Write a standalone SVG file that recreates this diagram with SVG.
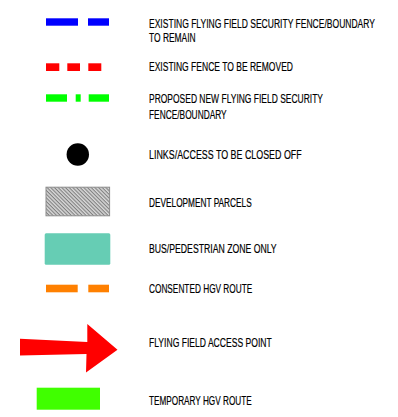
<svg xmlns="http://www.w3.org/2000/svg" width="398" height="417" viewBox="0 0 398 417">
<defs>
<pattern id="hatch" patternUnits="userSpaceOnUse" width="2.6" height="2.6" patternTransform="rotate(45)">
<rect width="2.6" height="2.6" fill="#d8d8d8"/>
<rect width="2.6" height="1.1" fill="#808080"/>
</pattern>
<style>
.t{font-family:"Liberation Sans",Arial,sans-serif;font-size:13.6px;fill:#000;stroke:#000;stroke-width:0.2;}
</style>
</defs>
<rect width="398" height="417" fill="#fff"/>
<g id="blue-fence">
<rect x="46" y="18.3" width="32" height="7.4" fill="#0000ff"/>
<rect x="88" y="18.3" width="21" height="7.4" fill="#0000ff"/>
<text class="t" transform="scale(0.6,1)" x="248.33" y="28.3" textLength="376.67" lengthAdjust="spacingAndGlyphs">EXISTING FLYING FIELD SECURITY FENCE/BOUNDARY</text>
<text class="t" transform="scale(0.6,1)" x="248.33" y="42.3" textLength="77.8" lengthAdjust="spacingAndGlyphs">TO REMAIN</text>
</g>
<g id="red-fence">
<rect x="46" y="63.3" width="13.3" height="7.7" fill="#ff0000"/>
<rect x="67.3" y="63.3" width="12.7" height="7.7" fill="#ff0000"/>
<rect x="88.3" y="63.3" width="13" height="7.7" fill="#ff0000"/>
<text class="t" transform="scale(0.6,1)" x="248.33" y="71" textLength="240" lengthAdjust="spacingAndGlyphs">EXISTING FENCE TO BE REMOVED</text>
</g>
<g id="green-fence">
<rect x="46" y="94.3" width="21" height="7.4" fill="#00ff00"/>
<rect x="75.7" y="94.3" width="5" height="7.4" fill="#00ff00"/>
<rect x="88.7" y="94.3" width="20.3" height="7.4" fill="#00ff00"/>
<text class="t" transform="scale(0.6,1)" x="248.33" y="103.3" textLength="290" lengthAdjust="spacingAndGlyphs">PROPOSED NEW FLYING FIELD SECURITY</text>
<text class="t" transform="scale(0.6,1)" x="248.33" y="119.3" textLength="129.5" lengthAdjust="spacingAndGlyphs">FENCE/BOUNDARY</text>
</g>
<g id="closed-links">
<circle cx="77.8" cy="154.5" r="11.2" fill="#000"/>
<text class="t" transform="scale(0.6,1)" x="248.33" y="159.3" textLength="254.5" lengthAdjust="spacingAndGlyphs">LINKS/ACCESS TO BE CLOSED OFF</text>
</g>
<g id="development-parcels">
<rect x="46" y="187.2" width="63.6" height="28.6" fill="url(#hatch)" stroke="#8c8c8c" stroke-width="1"/>
<text class="t" transform="scale(0.6,1)" x="248.33" y="206.7" textLength="171.2" lengthAdjust="spacingAndGlyphs">DEVELOPMENT PARCELS</text>
</g>
<g id="bus-zone">
<rect x="44.7" y="233.3" width="65.6" height="31.4" rx="1.5" fill="#66cdb4"/>
<text class="t" transform="scale(0.6,1)" x="248.33" y="252.7" textLength="212.8" lengthAdjust="spacingAndGlyphs">BUS/PEDESTRIAN ZONE ONLY</text>
</g>
<g id="hgv-route">
<rect x="46" y="284.7" width="31.7" height="7.6" fill="#ff8000"/>
<rect x="88.3" y="284.7" width="20.7" height="7.6" fill="#ff8000"/>
<text class="t" transform="scale(0.6,1)" x="248.33" y="293.3" textLength="172.2" lengthAdjust="spacingAndGlyphs">CONSENTED HGV ROUTE</text>
</g>
<g id="access-point">
<polygon points="20,338.7 87.3,342 87.3,324 117.5,349.7 86,372.5 86.5,354 20,355.5" fill="#ff0000"/>
<text class="t" transform="scale(0.6,1)" x="248.33" y="347.3" textLength="204.5" lengthAdjust="spacingAndGlyphs">FLYING FIELD ACCESS POINT</text>
</g>
<g id="temp-hgv">
<rect x="36.7" y="387.7" width="63.3" height="22" fill="#40ff00"/>
<text class="t" transform="scale(0.6,1)" x="248.33" y="405" textLength="171.2" lengthAdjust="spacingAndGlyphs">TEMPORARY HGV ROUTE</text>
</g>
<g id="connectors"></g>
</svg>
